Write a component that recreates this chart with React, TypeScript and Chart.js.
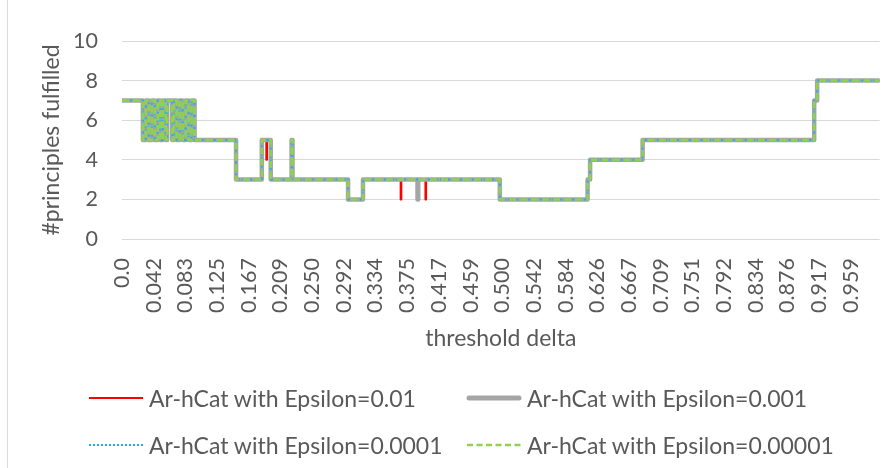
import React, { useEffect, useRef } from "react";
import { Chart, registerables } from "chart.js";

Chart.register(...registerables);

// ---------- data ----------
const xTickValues = [
  0, 0.0417, 0.0834, 0.1251, 0.1668, 0.2085, 0.2502, 0.2919, 0.3336, 0.3753, 0.417, 0.4587,
  0.5004, 0.5421, 0.5838, 0.6255, 0.6672, 0.7089, 0.7506, 0.7923, 0.834, 0.8757, 0.9174, 0.9591,
];
const xTickLabels = [
  "0.0", "0.042", "0.083", "0.125", "0.167", "0.209", "0.250", "0.292", "0.334", "0.375", "0.417", "0.459",
  "0.500", "0.542", "0.584", "0.626", "0.667", "0.709", "0.751", "0.792", "0.834", "0.876", "0.917", "0.959",
];
const xMax = 0.997;

// common step function: value stepY[i] holds from stepX[i] until stepX[i+1]
const stepX = [
  0, 0.0275, 0.0314, 0.0353, 0.0393, 0.0432, 0.0471, 0.0504, 0.0536, 0.0576, 0.0595,
  0.0661, 0.068, 0.0719, 0.0759, 0.0798, 0.0837, 0.0877, 0.0916, 0.0955,
  0.1501, 0.184, 0.1957, 0.2232, 0.2244, 0.2975, 0.3171, 0.4972, 0.6127, 0.616, 0.6851,
  0.9109, 0.9148, 0.997,
];
const stepY = [
  7, 5, 7, 5, 7, 5, 7, 5, 7, 5, 7,
  5, 7, 5, 7, 5, 7, 5, 7, 5,
  3, 5, 3, 5, 3, 2, 3, 2, 3, 4, 5,
  7, 8, 8,
];

// single-sample deviations of individual series
const eps01DipX = [0.1899, 0.3667, 0.3993];
const eps01DipY = [4, 2, 2];
const eps001DipX = [0.3889];
const eps001DipY = [2];
const dipWidth = 0.0009;

const seriesNames = [
  "Ar-hCat with Epsilon=0.01",
  "Ar-hCat with Epsilon=0.001",
  "Ar-hCat with Epsilon=0.0001",
  "Ar-hCat with Epsilon=0.00001",
];
const seriesColors = ["#FF0000", "#A5A5A5", "#1FB0EE", "#92D050"];

// ---------- helpers ----------
function baseValueAt(x: number): number {
  let v = stepY[0];
  for (let i = 0; i < stepX.length; i++) {
    if (stepX[i] <= x) v = stepY[i];
  }
  return v;
}

function buildSeries(dipX: number[], dipY: number[]) {
  const pts = stepX.map((x, i) => ({ x, y: stepY[i] }));
  dipX.forEach((x, i) => {
    const b = baseValueAt(x);
    pts.push({ x, y: dipY[i] });
    pts.push({ x: x + dipWidth, y: b });
  });
  pts.sort((a, b) => a.x - b.x);
  return pts;
}

const FONT = "Lato, 'Noto Sans', sans-serif";
const TXT = "#595959";

function LegendSample({ idx }: { idx: number }) {
  const c = seriesColors[idx];
  let line: React.ReactNode = null;
  if (idx === 0) line = <line x1={1} y1={6} x2={55} y2={6} stroke={c} strokeWidth={2} />;
  if (idx === 1)
    line = <line x1={3} y1={6} x2={53} y2={6} stroke={c} strokeWidth={5} strokeLinecap="round" />;
  if (idx === 2)
    line = <line x1={1} y1={6} x2={55} y2={6} stroke={c} strokeWidth={2} strokeDasharray="2 2" />;
  if (idx === 3)
    line = <line x1={1} y1={6} x2={55} y2={6} stroke={c} strokeWidth={2.5} strokeDasharray="6 3.5" />;
  return (
    <svg width={56} height={12} style={{ display: "block", flex: "none" }}>
      {line}
    </svg>
  );
}

export default function App() {
  const canvasRef = useRef<HTMLCanvasElement | null>(null);

  useEffect(() => {
    document.body.style.margin = "0";
    const ctx = canvasRef.current;
    if (!ctx) return;
    const widths = [2, 4.5, 2, 2.5];
    const dashes = [[], [], [2, 2], [7, 4]];
    const dips = [
      [eps01DipX, eps01DipY],
      [eps001DipX, eps001DipY],
      [[], []],
      [[], []],
    ];
    const datasets = seriesNames.map((name, i) => ({
      label: name,
      data: buildSeries(dips[i][0] as number[], dips[i][1] as number[]),
      borderColor: seriesColors[i],
      backgroundColor: seriesColors[i],
      borderWidth: widths[i],
      borderDash: dashes[i],
      borderJoinStyle: "round" as const,
      borderCapStyle: i === 1 ? ("round" as const) : ("butt" as const),
      stepped: "before" as const,
      pointRadius: 0,
      fill: false,
      order: 4 - i,
    }));

    const chart = new Chart(ctx, {
      type: "line",
      data: { datasets },
      options: {
        animation: false,
        responsive: false,
        maintainAspectRatio: false,
        layout: { padding: { left: 38, right: 10, top: 41, bottom: 116 } },
        plugins: { legend: { display: false }, tooltip: { enabled: false } },
        scales: {
          x: {
            type: "linear",
            min: 0,
            max: xMax,
            afterBuildTicks: (s: any) => {
              s.ticks = xTickValues.map((v) => ({ value: v }));
            },
            afterFit: (s: any) => {
              s.height = 113;
            },
            grid: { display: false, drawTicks: false },
            border: { display: false },
            ticks: {
              autoSkip: false,
              minRotation: 90,
              maxRotation: 90,
              padding: 19,
              color: TXT,
              font: { family: FONT, size: 21.5 },
              callback: (_v: any, i: number) => xTickLabels[i],
            },
            title: {
              display: true,
              text: "threshold delta",
              color: TXT,
              font: { family: FONT, size: 23 },
              padding: 0,
            },
          },
          y: {
            min: 0,
            max: 10,
            afterFit: (s: any) => {
              s.width = 84;
            },
            grid: { color: "#D9D9D9", lineWidth: 1, drawTicks: false },
            border: { display: false },
            ticks: {
              stepSize: 2,
              padding: 24,
              color: TXT,
              font: { family: FONT, size: 21.5 },
            },
            title: {
              display: true,
              text: "#principles fulfilled",
              color: TXT,
              font: { family: FONT, size: 23 },
              padding: 0,
            },
          },
        },
      },
    });
    return () => chart.destroy();
  }, []);

  const legendItems = [
    { idx: 0, left: 88, top: 398 },
    { idx: 1, left: 466, top: 398 },
    { idx: 2, left: 88, top: 445 },
    { idx: 3, left: 466, top: 445 },
  ];

  return (
    <div
      style={{
        position: "fixed",
        left: 0,
        top: 0,
        width: 896,
        height: 468,
        background: "#ffffff",
        overflow: "hidden",
      }}
    >
      <canvas ref={canvasRef} width={896} height={468} style={{ position: "absolute", left: 0, top: 0 }} />
      <div
        style={{
          position: "absolute",
          left: 7,
          top: 0,
          width: 1,
          height: 468,
          background: "#D9D9D9",
        }}
      />
      {legendItems.map((it) => (
        <div
          key={it.idx}
          style={{
            position: "absolute",
            left: it.left,
            top: it.top - 15,
            height: 30,
            display: "flex",
            alignItems: "center",
            whiteSpace: "nowrap",
            fontFamily: FONT,
            fontSize: 23,
            color: TXT,
          }}
        >
          <LegendSample idx={it.idx} />
          <span style={{ marginLeft: 5 }}>{seriesNames[it.idx]}</span>
        </div>
      ))}
    </div>
  );
}
